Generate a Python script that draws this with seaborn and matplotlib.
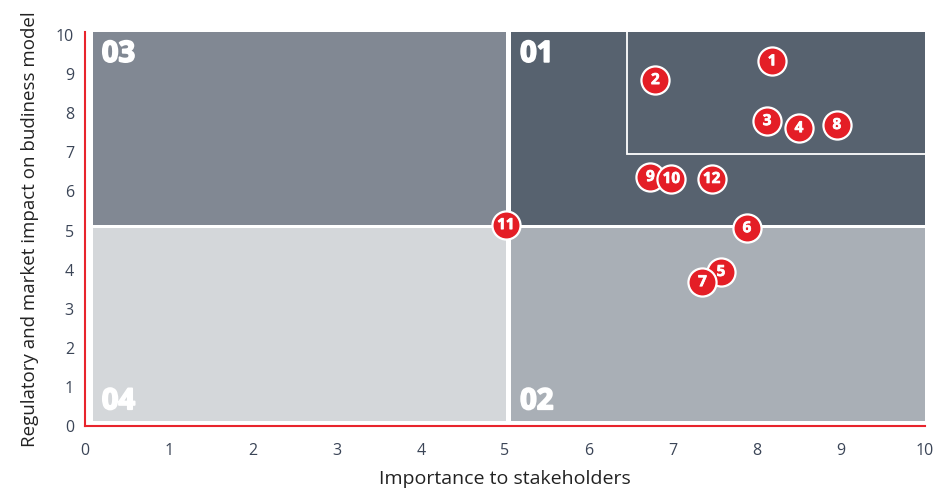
import matplotlib.pyplot as plt
import matplotlib.patches as mpatches
import matplotlib.patheffects as pe
import pandas as pd
import seaborn as sns

# Données de la matrice
labels = ["1", "2", "3", "4", "5", "6", "7", "8", "9", "10", "11", "12"]
importance = [8.18, 6.79, 8.12, 8.50, 7.57, 7.88, 7.35, 8.95, 6.73, 6.98, 5.01, 7.46]
impact = [9.33, 8.85, 7.80, 7.62, 3.94, 5.06, 3.68, 7.70, 6.37, 6.32, 5.14, 6.32]

quadrant_names = ["01", "02", "03", "04"]
quadrant_colors = ["#57626f", "#a9afb6", "#818893", "#d4d7da"]

df = pd.DataFrame({"label": labels, "x": importance, "y": impact})

sns.set_style("white")
plt.rcParams["font.family"] = ["Open Sans", "DejaVu Sans"]

fig = plt.figure(figsize=(9.36, 4.9), dpi=100)
ax = fig.add_axes([85 / 936, 1 - 426 / 490, 840 / 936, 394 / 490])
ax.set_xlim(0, 10)
ax.set_ylim(0, 10.08)

# Quadrants
boxes = {
    "01": (5.07, 5.14, 4.93, 4.94),
    "02": (5.07, 0.13, 4.93, 4.93),
    "03": (0.09, 5.14, 4.92, 4.94),
    "04": (0.09, 0.13, 4.92, 4.93),
}
for name, color in zip(quadrant_names, quadrant_colors):
    x0, y0, w, h = boxes[name]
    ax.add_patch(mpatches.Rectangle((x0, y0), w, h, facecolor=color, edgecolor="none", zorder=1))
    top = name in ("01", "03")
    ty = y0 + h - 0.2 if top else y0 + 0.12
    ax.text(x0 + 0.11, ty, name, color="white", fontsize=21, fontweight="bold",
            va="top" if top else "bottom", ha="left", zorder=2,
            path_effects=[pe.withStroke(linewidth=1.3, foreground="white")])

# Zone prioritaire
ax.add_patch(mpatches.Rectangle((6.45, 6.95), 3.6, 3.3, facecolor="none",
                                edgecolor="white", linewidth=1.3, zorder=2))

# Points
sns.scatterplot(data=df, x="x", y="y", s=410, color="#e41e26", edgecolor="white",
                linewidth=1.6, ax=ax, zorder=3, legend=False)
for i, row in df.iterrows():
    ax.text(row["x"], row["y"], row["label"], color="white", fontsize=11, fontweight="bold",
            ha="center", va="center", zorder=4 + i * 0.01,
            path_effects=[pe.withStroke(linewidth=0.5, foreground="white")])

# Axes
for side in ["top", "right"]:
    ax.spines[side].set_visible(False)
for side in ["left", "bottom"]:
    ax.spines[side].set_color("#e8242c")
    ax.spines[side].set_linewidth(1.5)
ax.set_xticks(range(0, 11))
ax.set_yticks(range(0, 11))
ax.tick_params(length=0, labelsize=11.5, labelcolor="#3b4557")
ax.tick_params(axis="x", pad=12)
ax.tick_params(axis="y", pad=8)
ax.set_xlabel("Importance to stakeholders", fontsize=14, color="#222222", labelpad=8)
ax.set_ylabel("Regulatory and market impact on budiness model", fontsize=13.5, color="#222222", labelpad=12)

plt.savefig("out.png", dpi=100)
